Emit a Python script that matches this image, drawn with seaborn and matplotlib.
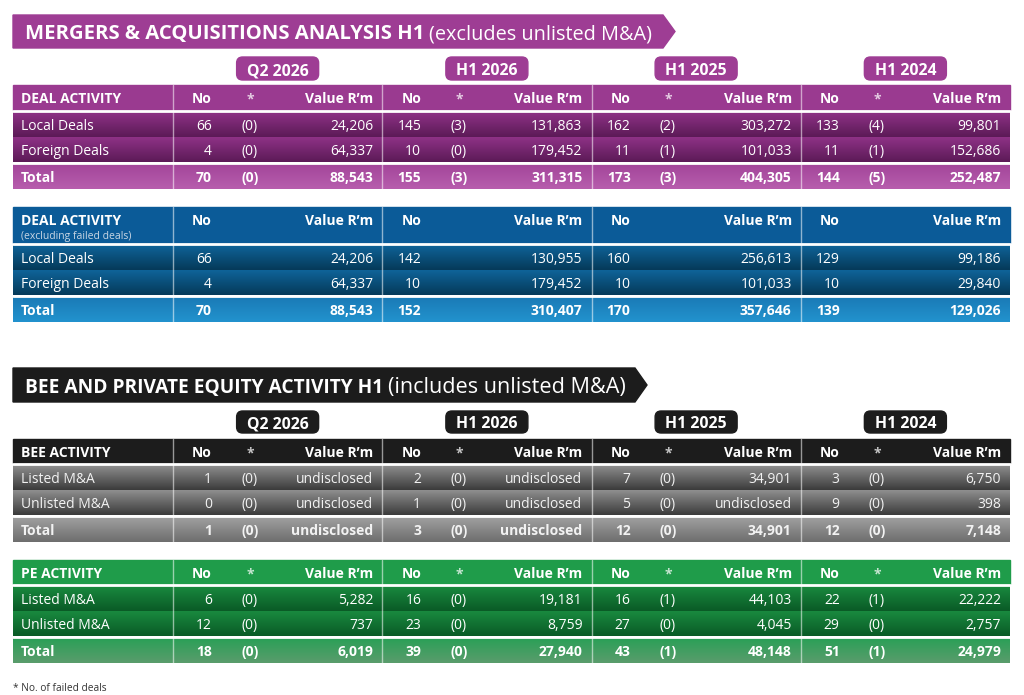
import matplotlib
matplotlib.use('Agg')
import matplotlib.pyplot as plt
import seaborn as sns
import numpy as np
from matplotlib.patches import Polygon, FancyBboxPatch

# ---- data ----
periods = ["Q2 2026", "H1 2026", "H1 2025", "H1 2024"]
deal_rows = ["Local Deals", "Foreign Deals", "Total"]
deal_no = [[66, 145, 162, 133], [4, 10, 11, 11], [70, 155, 173, 144]]
deal_failed = [[0, 3, 2, 4], [0, 0, 1, 1], [0, 3, 3, 5]]
deal_value = [[24206, 131863, 303272, 99801],
              [64337, 179452, 101033, 152686],
              [88543, 311315, 404305, 252487]]

excl_no = [[66, 142, 160, 129], [4, 10, 10, 10], [70, 152, 170, 139]]
excl_value = [[24206, 130955, 256613, 99186],
              [64337, 179452, 101033, 29840],
              [88543, 310407, 357646, 129026]]

ma_rows = ["Listed M&A", "Unlisted M&A", "Total"]
bee_no = [[1, 2, 7, 3], [0, 1, 5, 9], [1, 3, 12, 12]]
bee_failed = [[0, 0, 0, 0], [0, 0, 0, 0], [0, 0, 0, 0]]
bee_value = [[None, None, 34901, 6750],
             [None, None, None, 398],
             [None, None, 34901, 7148]]

pe_no = [[6, 16, 16, 22], [12, 23, 27, 29], [18, 39, 43, 51]]
pe_failed = [[0, 0, 1, 1], [0, 0, 0, 0], [0, 0, 1, 1]]
pe_value = [[5282, 19181, 44103, 22222],
            [737, 8759, 4045, 2757],
            [6019, 27940, 48148, 24979]]

# ---- styling ----
sns.set_theme(style='white')
plt.rcParams['font.family'] = ['Open Sans', 'DejaVu Sans']

purple = dict(band='#9E3D94', head='#9A3A90', r0='#8E3286', r1='#5C1A57', t0='#A3469A', t1='#B75DAD', txt='white')
blue = dict(head='#0B5B98', r0='#0F6398', r1='#053A5A', t0='#1A7BB6', t1='#2292CE', txt='white')
black = dict(band='#1C1C1C', head='#1C1C1C', r0='#8E8E8E', r1='#3C3C3C', t0='#A0A0A0', t1='#6E6E6E', txt='#F2F2F2')
green = dict(head='#1F9C4A', r0='#19893F', r1='#0A5B26', t0='#2AA057', t1='#5A9C6C', txt='white')

X0, X1 = 13, 1010
LABEL_W = 160
GROUP_W = (X1 - X0 - LABEL_W) / len(periods)
ROW_H = 25
FS = 10

fig = plt.figure(figsize=(10.24, 6.95), dpi=100)
ax = fig.add_axes([0, 0, 1, 1])
ax.axis('off')
ax.set_xlim(0, 1024)
ax.set_ylim(695, 0)
ax.set_autoscale_on(False)


def fmt(v):
    return 'undisclosed' if v is None else f'{v:,}'


def grad(x0, x1, y0, y1, c0, c1):
    cols = np.array(sns.blend_palette([c0, c1], 32))[:, None, :]
    ax.imshow(cols, extent=(x0, x1, y1, y0), aspect='auto', origin='upper',
              interpolation='bilinear', zorder=1)


def banner(y0, y1, x_end, color, bold, rest, fs_bold, fs_rest):
    tip = 12
    ax.add_patch(Polygon([(X0, y0), (x_end, y0), (x_end + tip, (y0 + y1) / 2),
                          (x_end, y1), (X0, y1)], closed=True, color=color, zorder=1))
    ym = (y0 + y1) / 2 + 0.5
    t = ax.text(25, ym, bold, color='white', fontsize=fs_bold, fontweight='bold',
                va='center_baseline', ha='left', zorder=3)
    fig.canvas.draw()
    bb = t.get_window_extent().transformed(ax.transData.inverted())
    ax.text(bb.x1 + 5, ym, rest, color='white', fontsize=fs_rest,
            va='center_baseline', ha='left', zorder=3)


def pills(y0, y1, color):
    for i, p in enumerate(periods):
        cx = X0 + LABEL_W + GROUP_W * (i + 0.5)
        ax.add_patch(FancyBboxPatch((cx - 41, y0), 82, y1 - y0,
                                    boxstyle='round,pad=0,rounding_size=6',
                                    color=color, zorder=1))
        ax.text(cx, (y0 + y1) / 2 + 0.5, p, color='white', fontsize=11.4, fontweight='bold',
                ha='center', va='center_baseline', zorder=3)


def table(top, head_h, title, sub, rows, no, value, failed, pal):
    # header
    ax.add_patch(plt.Rectangle((X0, top), X1 - X0, head_h, color=pal['head'], zorder=1))
    hy = top + 12.5
    ax.text(21, hy, title, color='white', fontsize=FS, fontweight='bold',
            va='center_baseline', zorder=3)
    if sub:
        ax.text(21, hy + 15, sub, color='#C8D6E4', fontsize=7.5, va='center_baseline', zorder=3)
    for g in range(len(periods)):
        gx = X0 + LABEL_W + GROUP_W * g
        ax.text(gx + 39, hy, 'No', color='white', fontsize=FS, fontweight='bold',
                ha='right', va='center_baseline', zorder=3)
        if failed is not None:
            ax.text(gx + 77, hy, '*', color='white', alpha=0.75, fontsize=FS, fontweight='bold',
                    ha='center', va='center_baseline', zorder=3)
        ax.text(gx + GROUP_W - 9, hy, 'Value R\u2019m', color='white', fontsize=FS,
                fontweight='bold', ha='right', va='center_baseline', zorder=3)
    # body rows
    y = top + head_h + 2
    for r, name in enumerate(rows):
        is_tot = r == len(rows) - 1
        if is_tot:
            y += 2
        c0, c1 = (pal['t0'], pal['t1']) if is_tot else (pal['r0'], pal['r1'])
        grad(X0, X1, y, y + ROW_H, c0, c1)
        wt = 'bold' if is_tot else 'normal'
        ym = y + ROW_H / 2
        ax.text(21, ym, name, color=pal['txt'], fontsize=FS, fontweight=wt,
                va='center_baseline', zorder=3)
        for g in range(len(periods)):
            gx = X0 + LABEL_W + GROUP_W * g
            ax.text(gx + 39, ym, str(no[r][g]), color=pal['txt'], fontsize=FS, fontweight=wt,
                    ha='right', va='center_baseline', zorder=3)
            if failed is not None:
                ax.text(gx + 68, ym, f'({failed[r][g]})', color=pal['txt'], fontsize=FS,
                        fontweight=wt, ha='left', va='center_baseline', zorder=3)
            ax.text(gx + GROUP_W - 9, ym, fmt(value[r][g]), color=pal['txt'], fontsize=FS,
                    fontweight=wt, ha='right', va='center_baseline', zorder=3)
        y += ROW_H
    # separators
    for g in range(len(periods)):
        gx = X0 + LABEL_W + GROUP_W * g
        ax.plot([gx, gx], [top, y], color='white', alpha=0.55, lw=1, zorder=2)
    for yy in (top + head_h + 1, y - ROW_H - 1):
        ax.plot([X0, X1], [yy, yy], color='white', lw=2, zorder=2)


banner(15, 48, 663, purple['band'], 'MERGERS & ACQUISITIONS ANALYSIS H1', '(excludes unlisted M&A)',
       14.6, 14.3)
pills(57, 80, purple['band'])
table(85, 25, 'DEAL ACTIVITY', None, deal_rows, deal_no, deal_value, deal_failed, purple)
table(207, 36, 'DEAL ACTIVITY', '(excluding failed deals)', deal_rows, excl_no, excl_value, None, blue)

banner(368, 402, 635, black['band'], 'BEE AND PRIVATE EQUITY ACTIVITY H1', '(includes unlisted M&A)',
       13.8, 15.6)
pills(411, 433, black['band'])
table(439, 24, 'BEE ACTIVITY', None, ma_rows, bee_no, bee_value, bee_failed, black)
table(560, 24, 'PE ACTIVITY', None, ma_rows, pe_no, pe_value, pe_failed, green)

ax.text(13, 687, '* No. of failed deals', color='#333333', fontsize=7.3, va='center_baseline')

fig.savefig('out.png', dpi=100, facecolor='white')
